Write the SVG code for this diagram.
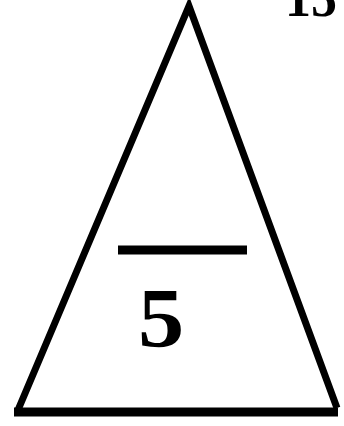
<svg xmlns="http://www.w3.org/2000/svg" width="344" height="426" viewBox="0 0 344 426">
<style>
.ln{stroke:#000;fill:none;stroke-linecap:butt;stroke-linejoin:miter}
.t{font-family:"Liberation Serif","Times New Roman",serif;font-weight:bold;fill:#000}
</style>
<rect width="344" height="426" fill="#fff"/>
<g id="triangle">
<path class="ln" d="M18 410 L189 6 L337 408" stroke-width="7"/>
<line class="ln" x1="14" y1="412" x2="338" y2="412" stroke-width="9"/>
</g>
<g id="fraction">
<line class="ln" x1="118" y1="250" x2="247" y2="250" stroke-width="9"/>
<text class="t" x="138" y="347" font-size="84" transform="translate(138 347) scale(1.1 1) translate(-138 -347)">5</text>
</g>
<g id="label">
<text class="t" x="285" y="16" font-size="52">15</text>
</g>
</svg>
